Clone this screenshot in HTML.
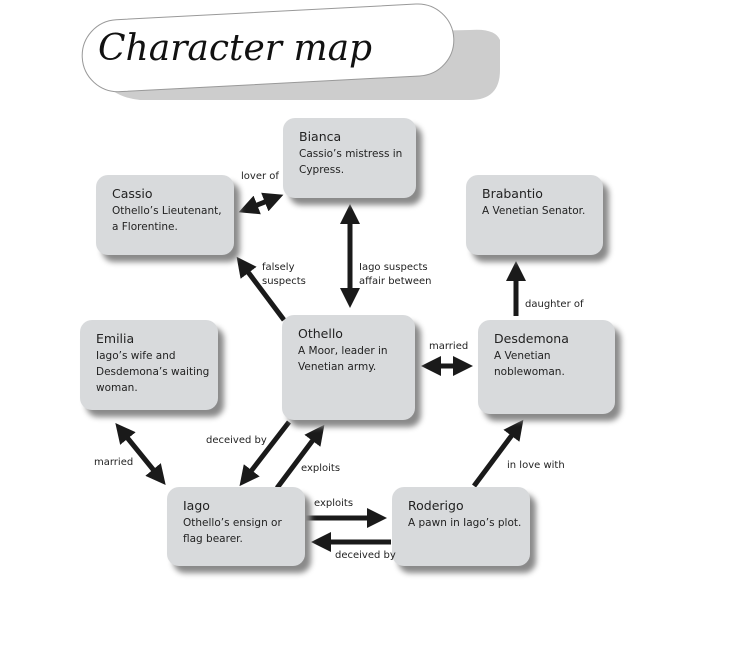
<!DOCTYPE html>
<html><head><style>
body{margin:0;width:736px;height:654px;background:#fff;position:relative;overflow:hidden;font-family:"DejaVu Sans","Liberation Sans",sans-serif;}
.b{position:absolute;background:#d8dadc;border-radius:12px;box-shadow:6px 7px 6px #8a8a8a;box-sizing:border-box;padding:10px 0 0 16px;color:#222;font-size:10.5px;line-height:16px;}
.b .n{font-size:12.5px;line-height:18px;}
.l{position:absolute;font-size:10px;color:#222;line-height:14px;}
svg{position:absolute;left:0;top:0;}
</style></head><body>
<svg width="736" height="654">
<defs><marker id="a" markerWidth="4" markerHeight="4" refX="2.2" refY="2" orient="auto-start-reverse" markerUnits="strokeWidth"><path d="M0,0 L4,2 L0,4 z" fill="#1a1a1a"/></marker></defs>
<path d="M95,38 Q90,95 140,100 L470,100 Q500,100 500,70 L500,40 Q495,28 470,30 Z" fill="#cdcdcd"/>
<g transform="rotate(-3 265 48)"><rect x="82" y="12" width="372" height="72" rx="36" fill="#fff" stroke="#999" stroke-width="1"/></g>
<text x="98" y="60" font-family="DejaVu Serif,Liberation Serif,serif" font-style="italic" font-size="36" fill="#111">Character map</text>
<g stroke="#1a1a1a" stroke-width="5" fill="none">
<line x1="247" y1="209" x2="275" y2="198" marker-start="url(#a)" marker-end="url(#a)"/>
<line x1="350" y1="213" x2="350" y2="299" marker-start="url(#a)" marker-end="url(#a)"/>
<line x1="284" y1="320" x2="242" y2="264" marker-end="url(#a)"/>
<line x1="516" y1="316" x2="516" y2="270" marker-end="url(#a)"/>
<line x1="430" y1="366" x2="464" y2="366" marker-start="url(#a)" marker-end="url(#a)"/>
<line x1="121" y1="430" x2="160" y2="478" marker-start="url(#a)" marker-end="url(#a)"/>
<line x1="289" y1="422" x2="245" y2="479" marker-end="url(#a)"/>
<line x1="277" y1="488" x2="319" y2="432" marker-end="url(#a)"/>
<line x1="306" y1="518" x2="378" y2="518" marker-end="url(#a)"/>
<line x1="391" y1="542" x2="320" y2="542" marker-end="url(#a)"/>
<line x1="474" y1="486" x2="518" y2="427" marker-end="url(#a)"/>
</g>
</svg>
<div class="b" style="left:283px;top:118px;width:133px;height:80px;"><div class="n">Bianca</div>Cassio’s mistress in<br>Cypress.</div>
<div class="b" style="left:96px;top:175px;width:138px;height:80px;"><div class="n">Cassio</div>Othello’s Lieutenant,<br>a Florentine.</div>
<div class="b" style="left:466px;top:175px;width:137px;height:80px;"><div class="n">Brabantio</div>A Venetian Senator.</div>
<div class="b" style="left:80px;top:320px;width:138px;height:90px;"><div class="n">Emilia</div>Iago’s wife and<br>Desdemona’s waiting<br>woman.</div>
<div class="b" style="left:282px;top:315px;width:133px;height:105px;"><div class="n">Othello</div>A Moor, leader in<br>Venetian army.</div>
<div class="b" style="left:478px;top:320px;width:137px;height:94px;"><div class="n">Desdemona</div>A Venetian<br>noblewoman.</div>
<div class="b" style="left:167px;top:487px;width:138px;height:79px;"><div class="n">Iago</div>Othello’s ensign or<br>flag bearer.</div>
<div class="b" style="left:392px;top:487px;width:138px;height:79px;"><div class="n">Roderigo</div>A pawn in Iago’s plot.</div>
<div class="l" style="left:241px;top:170px;">lover of</div>
<div class="l" style="left:262px;top:261px;">falsely<br>suspects</div>
<div class="l" style="left:359px;top:261px;">Iago suspects<br>affair between</div>
<div class="l" style="left:429px;top:340px;">married</div>
<div class="l" style="left:525px;top:298px;">daughter of</div>
<div class="l" style="left:206px;top:434px;">deceived by</div>
<div class="l" style="left:94px;top:456px;">married</div>
<div class="l" style="left:301px;top:462px;">exploits</div>
<div class="l" style="left:314px;top:497px;">exploits</div>
<div class="l" style="left:335px;top:549px;">deceived by</div>
<div class="l" style="left:507px;top:459px;">in love with</div>
</body></html>
